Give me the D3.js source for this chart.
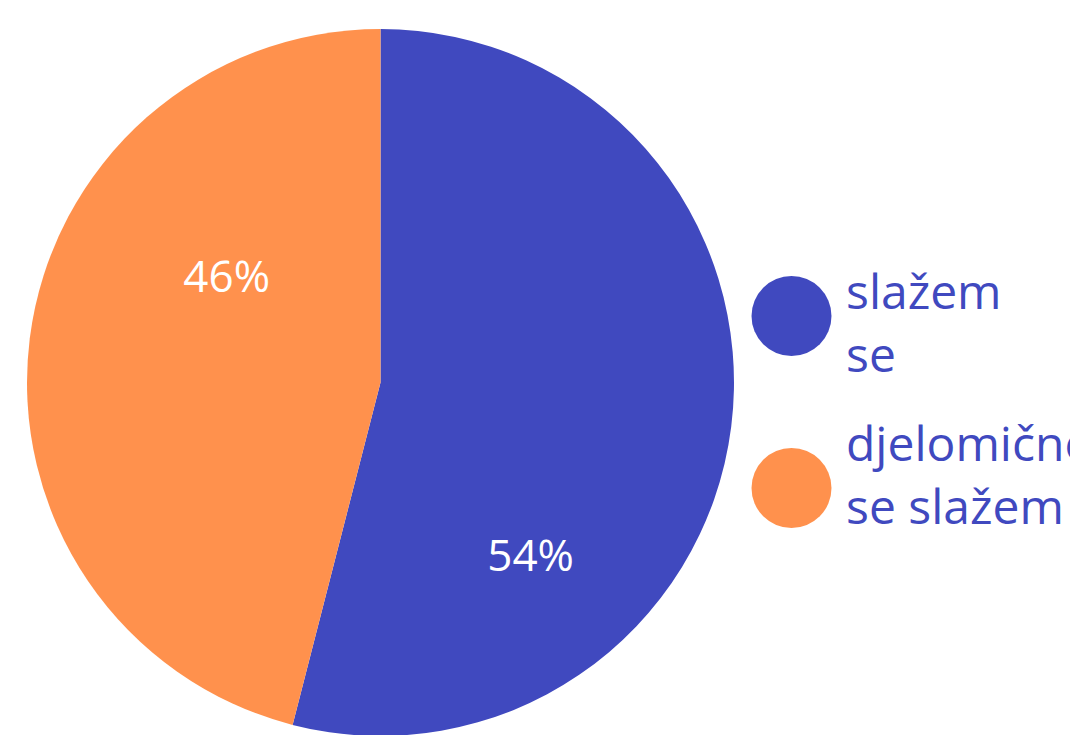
<!DOCTYPE html>
<html><head><meta charset="utf-8">
<script src="https://cdn.jsdelivr.net/npm/d3@7"></script>
<style>html,body{margin:0;padding:0;background:#fff;overflow:hidden}</style>
</head><body>
<svg id="chart" width="1070" height="735"></svg>
<script>
const categories = ["slažem se", "djelomično se slažem"];
const legendLines = [["slažem", "se"], ["djelomično", "se slažem"]];
const values = [54, 46];
const colors = ["#4049bf", "#ff914d"];
// label placement within slice: fraction along slice angle, fraction of radius
const labelAngleFrac = [0.718, 0.659];
const labelRadiusFrac = [0.655, 0.522];

const svg = d3.select("#chart");
const cx = 380.5, cy = 382.5, R = 353.5;
const g = svg.append("g").attr("transform", `translate(${cx},${cy})`);

const pie = d3.pie().sort(null).value(d => d.v);
const data = pie(values.map((v, i) => ({v, i})));
const arc = d3.arc().innerRadius(0).outerRadius(R);

g.selectAll("path.slice").data(data).enter().append("path")
  .attr("class", "slice")
  .attr("d", arc)
  .attr("fill", d => colors[d.data.i]);

const total = d3.sum(values);
g.selectAll("text.lbl").data(data).enter().append("text")
  .attr("class", "lbl")
  .attr("transform", d => {
    const i = d.data.i;
    const a = d.startAngle + labelAngleFrac[i] * (d.endAngle - d.startAngle);
    const r = labelRadiusFrac[i] * R;
    return `translate(${r * Math.sin(a)},${-r * Math.cos(a)})`;
  })
  .attr("text-anchor", "middle")
  .attr("dy", "0.27em")
  .attr("fill", "#ffffff")
  .style("font-family", "'Open Sans', 'Noto Sans', sans-serif")
  .style("font-size", "44px")
  .text(d => Math.round(d.data.v / total * 100) + "%");

const legendY = d3.scalePoint().domain(categories).range([316, 488]);
const legendTextY = d3.scalePoint().domain(categories).range([309, 461]);
const lg = svg.append("g");
categories.forEach((c, i) => {
  const y = legendY(c);
  lg.append("circle").attr("cx", 791.5).attr("cy", y).attr("r", 40).attr("fill", colors[i]);
  const t = lg.append("text")
    .attr("x", 846)
    .attr("y", legendTextY(c))
    .attr("fill", "#4049bf")
    .style("font-family", "'Open Sans', 'Noto Sans', sans-serif")
    .style("font-size", "48px");
  legendLines[i].forEach((line, j) => {
    t.append("tspan").attr("x", 846).attr("dy", j === 0 ? 0 : 63).text(line);
  });
});
</script>
</body></html>
